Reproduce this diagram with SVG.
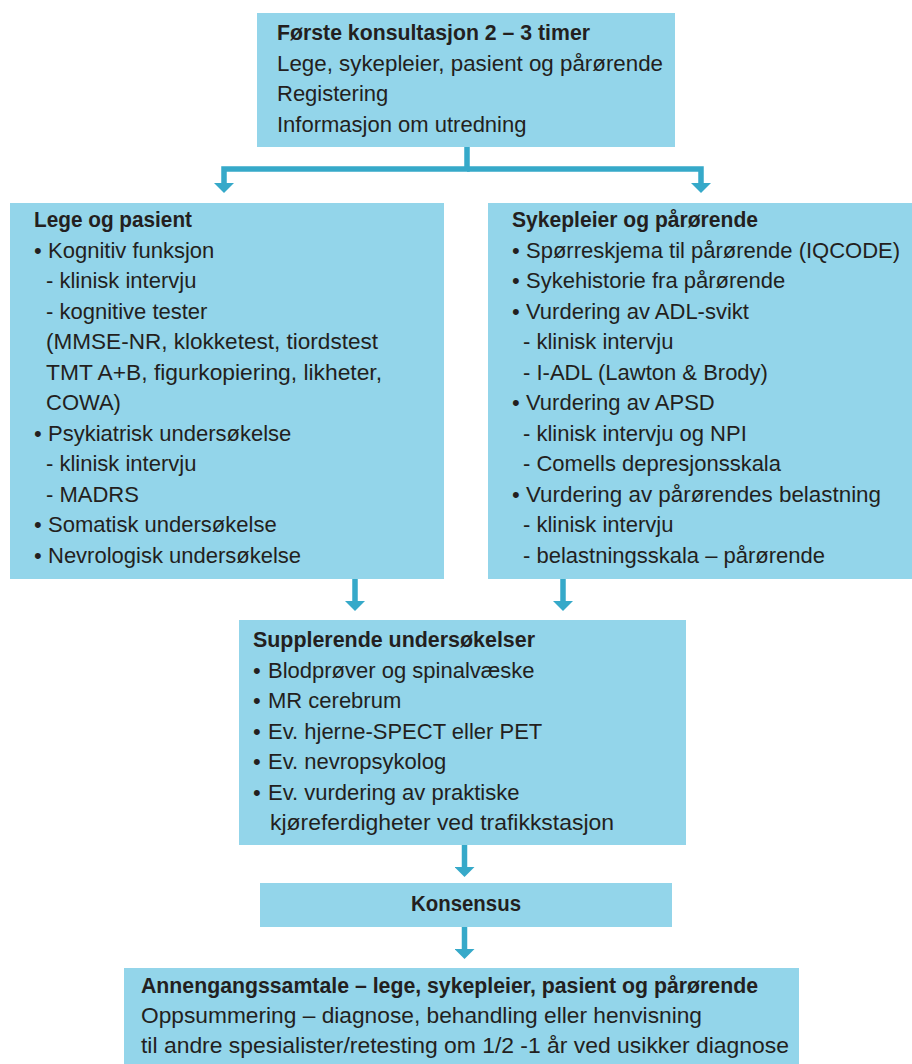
<svg xmlns="http://www.w3.org/2000/svg" width="912" height="1064" viewBox="0 0 912 1064">
<style>
.box{fill:#93d5ea;}
text{font-family:"Liberation Sans",Arial,sans-serif;font-size:22px;fill:#231f20;}
.b{font-weight:bold;}
.c{text-anchor:middle;}
.con{fill:none;stroke:#36a9c9;stroke-width:5.5;stroke-linejoin:miter;marker-end:url(#ah);}
</style>
<defs>
<marker id="ah" viewBox="0 0 10 20" refX="0" refY="10" markerWidth="10" markerHeight="20" markerUnits="userSpaceOnUse" orient="auto">
<path d="M0,0 L10,10 L0,20 Z" fill="#36a9c9"/>
</marker>
</defs>
<rect width="912" height="1064" fill="#ffffff"/>

<g id="connectors">
<path class="con" d="M467,147 V169 H224 V183"/>
<path class="con" d="M467,169 H701 V183"/>
<path class="con" d="M355,579 V601"/>
<path class="con" d="M563,579 V601"/>
<path class="con" d="M464.5,845 V867"/>
<path class="con" d="M464.5,927 V949"/>
</g>

<g id="n-first">
<rect class="box" x="257" y="13" width="418" height="134"/>
<text class="b" x="277" y="40" textLength="313" lengthAdjust="spacingAndGlyphs">Første konsultasjon 2 – 3 timer</text>
<text x="277" y="70.5" textLength="386" lengthAdjust="spacingAndGlyphs">Lege, sykepleier, pasient og pårørende</text>
<text x="277" y="101">Registering</text>
<text x="277" y="131.5">Informasjon om utredning</text>
</g>

<g id="n-lege">
<rect class="box" x="10" y="203" width="434" height="376"/>
<text class="b" x="34" y="227" textLength="158" lengthAdjust="spacingAndGlyphs">Lege og pasient</text>
<text x="34" y="257.5">•</text><text x="48" y="257.5">Kognitiv funksjon</text>
<text x="46" y="288">- klinisk intervju</text>
<text x="46" y="318.5">- kognitive tester</text>
<text x="46" y="349" textLength="332" lengthAdjust="spacingAndGlyphs">(MMSE-NR, klokketest, tiordstest</text>
<text x="46" y="379.5" textLength="336" lengthAdjust="spacingAndGlyphs">TMT A+B, figurkopiering, likheter,</text>
<text x="46" y="410">COWA)</text>
<text x="34" y="440.5">•</text><text x="48" y="440.5">Psykiatrisk undersøkelse</text>
<text x="46" y="471">- klinisk intervju</text>
<text x="46" y="501.5">- MADRS</text>
<text x="34" y="532">•</text><text x="48" y="532">Somatisk undersøkelse</text>
<text x="34" y="562.5">•</text><text x="48" y="562.5">Nevrologisk undersøkelse</text>
</g>

<g id="n-sykepleier">
<rect class="box" x="488" y="203" width="424" height="376"/>
<text class="b" x="512" y="227" textLength="246" lengthAdjust="spacingAndGlyphs">Sykepleier og pårørende</text>
<text x="512" y="257.5">•</text><text x="526" y="257.5">Spørreskjema til pårørende (IQCODE)</text>
<text x="512" y="288">•</text><text x="526" y="288">Sykehistorie fra pårørende</text>
<text x="512" y="318.5">•</text><text x="526" y="318.5">Vurdering av ADL-svikt</text>
<text x="523" y="349">- klinisk intervju</text>
<text x="523" y="379.5">- I-ADL (Lawton &amp; Brody)</text>
<text x="512" y="410">•</text><text x="526" y="410">Vurdering av APSD</text>
<text x="523" y="440.5">- klinisk intervju og NPI</text>
<text x="523" y="471">- Comells depresjonsskala</text>
<text x="512" y="501.5">•</text><text x="526" y="501.5" textLength="355" lengthAdjust="spacingAndGlyphs">Vurdering av pårørendes belastning</text>
<text x="523" y="532">- klinisk intervju</text>
<text x="523" y="562.5">- belastningsskala – pårørende</text>
</g>

<g id="n-supplerende">
<rect class="box" x="239" y="620" width="447" height="225"/>
<text class="b" x="253" y="647" textLength="282" lengthAdjust="spacingAndGlyphs">Supplerende undersøkelser</text>
<text x="253" y="677.5">•</text><text x="268" y="677.5">Blodprøver og spinalvæske</text>
<text x="253" y="708">•</text><text x="268" y="708">MR cerebrum</text>
<text x="253" y="738.5">•</text><text x="268" y="738.5">Ev. hjerne-SPECT eller PET</text>
<text x="253" y="769">•</text><text x="268" y="769">Ev. nevropsykolog</text>
<text x="253" y="799.5">•</text><text x="268" y="799.5">Ev. vurdering av praktiske</text>
<text x="270" y="830" textLength="344" lengthAdjust="spacingAndGlyphs">kjøreferdigheter ved trafikkstasjon</text>
</g>

<g id="n-konsensus">
<rect class="box" x="260" y="883" width="412" height="44"/>
<text class="b c" x="466" y="911" textLength="110" lengthAdjust="spacingAndGlyphs">Konsensus</text>
</g>

<g id="n-annengang">
<rect class="box" x="124" y="968" width="675" height="96"/>
<text class="b" x="141" y="993" textLength="617" lengthAdjust="spacingAndGlyphs">Annengangssamtale – lege, sykepleier, pasient og pårørende</text>
<text x="141" y="1023" textLength="561" lengthAdjust="spacingAndGlyphs">Oppsummering – diagnose, behandling eller henvisning</text>
<text x="141" y="1053" textLength="648" lengthAdjust="spacingAndGlyphs">til andre spesialister/retesting om 1/2 -1 år ved usikker diagnose</text>
</g>
</svg>
